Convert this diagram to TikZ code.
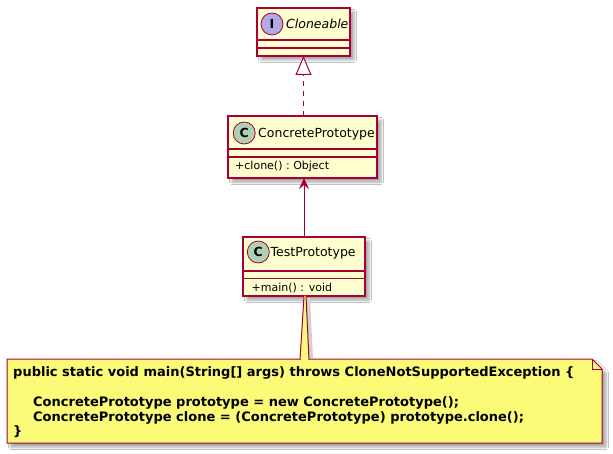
\documentclass[tikz,border=0pt]{standalone}
\usepackage{fontspec}
\setmainfont{DejaVu Sans}
\usetikzlibrary{arrows.meta,shadows.blur}
\definecolor{umlborder}{HTML}{A80036}
\definecolor{umlfill}{HTML}{FEFECE}
\definecolor{cfill}{HTML}{ADD1B2}
\definecolor{ifill}{HTML}{B4A7E5}
\definecolor{notefill}{HTML}{FBFB77}
\tikzset{
 umlshadow/.style={blur shadow={shadow xshift=4pt, shadow yshift=-4pt, shadow blur radius=2.5pt, shadow opacity=35}},
 classbox/.style={draw=umlborder, fill=umlfill, line width=1.2pt, inner sep=0pt, outer sep=0pt, anchor=north west, umlshadow},
 sepline/.style={draw=umlborder, line width=1.2pt},
 spot/.style={circle, draw=umlborder, line width=0.8pt, minimum size=22pt, inner sep=0pt, font=\fontsize{12.5}{12.5}\selectfont\bfseries},
 cname/.style={anchor=base west, inner sep=0pt, font=\fontsize{12.5}{14}\selectfont},
 member/.style={anchor=base west, inner sep=0pt, font=\fontsize{11}{13}\selectfont},
 notetext/.style={anchor=base west, inner sep=0pt, font=\fontsize{13}{15}\selectfont\bfseries},
 link/.style={draw=umlborder, line width=1pt},
}
\begin{document}
\begin{tikzpicture}[x=1pt,y=-1pt]
\useasboundingbox[fill=white] (0,0) rectangle (613,454);

% Cloneable
\node[classbox, minimum width=93pt, minimum height=48pt] (clo) at (257,8) {};
\draw[sepline] ([yshift=-32pt]clo.north west) -- ([yshift=-32pt]clo.north east);
\draw[sepline] ([yshift=-40pt]clo.north west) -- ([yshift=-40pt]clo.north east);
\node[spot, fill=ifill] (clospot) at (272,24) {I};
\node[cname, font=\fontsize{12.5}{14}\selectfont\itshape] (cloname) at (286,28.5) {Cloneable};

% ConcretePrototype
\node[classbox, minimum width=149pt, minimum height=62pt] (cp) at (228,116) {};
\draw[sepline] ([yshift=-33pt]cp.north west) -- ([yshift=-33pt]cp.north east);
\draw[sepline] ([yshift=-41pt]cp.north west) -- ([yshift=-41pt]cp.north east);
\node[spot, fill=cfill] (cpspot) at (244.2,133) {C};
\node[cname] (cpname) at (258,137.5) {ConcretePrototype};
\node[member] (cpmember) at (235,169.5) {+clone() :\ Object};

% TestPrototype
\node[classbox, minimum width=122pt, minimum height=59pt] (tp) at (243,237) {};
\draw[sepline] ([yshift=-34pt]tp.north west) -- ([yshift=-34pt]tp.north east);
\draw[sepline] ([yshift=-41.5pt]tp.north west) -- ([yshift=-41.5pt]tp.north east);
\node[spot, fill=cfill] (tpspot) at (258.3,252) {C};
\node[cname] (tpname) at (270.5,257) {TestPrototype};
\node[member] (tpmember) at (251.5,291) {+main() : void};

% realization
\draw[link, dash pattern=on 5pt off 5pt, -{Triangle[open, length=19pt, width=16pt, fill=white]}] (cp.north -| clo.south) -- (clo.south);
% association
\draw[link, -{Stealth[length=11pt, width=10pt, inset=4pt]}] (tp.north) -- (tp.north |- cp.south);

% note
\coordinate (nnw) at (7,359);
\coordinate (nfa) at (592,359);
\coordinate (nfb) at (602,369);
\coordinate (nse) at (602,443);
\coordinate (nsw) at (7,443);
\coordinate (nfc) at (592,369);
\path[umlshadow, draw=umlborder, fill=notefill, line width=1pt] (nnw) -- (nfa) -- (nfb) -- (nse) -- (nsw) -- cycle;
\draw[umlborder, line width=1pt] (nfa) -- (nfc) -- (nfb);

% note link wedge
\coordinate (wtop) at ([xshift=2pt]tp.south);
\coordinate (wl) at (300,359.8);
\coordinate (wr) at (309,359.8);
\fill[black!18] ([xshift=3pt,yshift=-2pt]tp.south) -- ([xshift=6pt,yshift=-2pt]tp.south) -- (313,358) -- (304,358) -- cycle;
\fill[notefill] (tp.south) -- (wtop) -- (wr) -- (wl) -- cycle;
\draw[link] (tp.south) -- (wl);
\draw[link] (wtop) -- (wr);

% note text
\node[notetext] (n1) at (13,376) {public static void main(String[] args) throws CloneNotSupportedException \{};
\node[notetext] (n3) at (33,406.5) {ConcretePrototype prototype = new ConcretePrototype();};
\node[notetext] (n4) at (33,421) {ConcretePrototype clone = (ConcretePrototype) prototype.clone();};
\node[notetext] (n5) at (13,435.5) {\}};
\end{tikzpicture}
\end{document}
